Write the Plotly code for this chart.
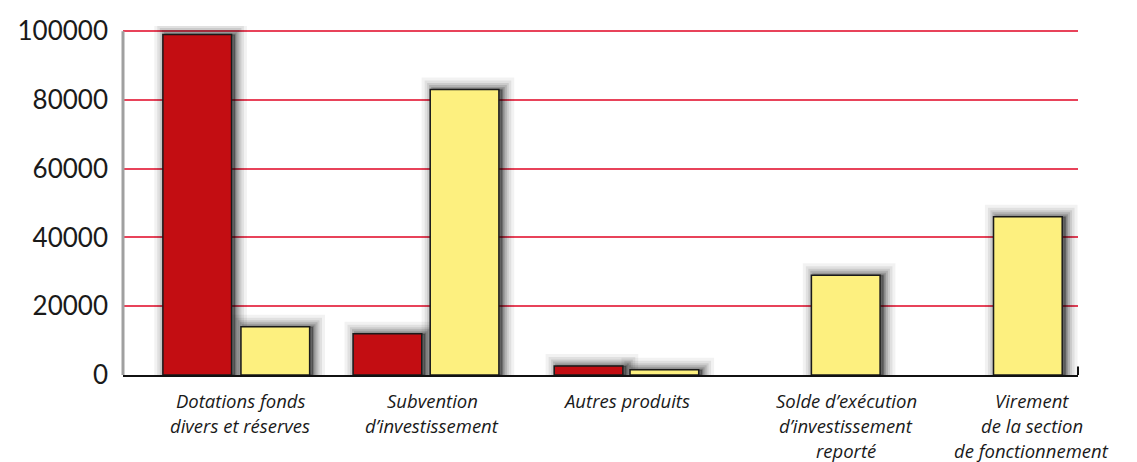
import plotly.graph_objects as go

category_lines = [["Dotations fonds", "divers et réserves"],
                  ["Subvention", "d’investissement"],
                  ["Autres produits"],
                  ["Solde d’exécution", "d’investissement", "reporté"],
                  ["Virement", "de la section", "de fonctionnement"]]
red_values = [99000, 12000, 2600, 0, 0]
yellow_values = [14000, 83000, 1500, 29000, 46000]
y_ticks = [0, 20000, 40000, 60000, 80000, 100000]

# layout / style (positions in axis units and pixels)
label_shift = [3, 7, 13, 45, 42]
red_offset = [-0.394, -0.383, -0.314, 0, 0]
yellow_offset = [0.021, 0.027, 0.089, 0.053, 0.021]
W = 0.365

keys = list(range(len(category_lines)))
RED = "#c30d12"
YELLOW = "#fdf07f"

fig = go.Figure()

# blurred drop shadows (drawn behind bars)
for vals, offs in ((red_values, red_offset), (yellow_values, yellow_offset)):
    shown = [v if v > 0 else None for v in vals]
    layers = ((24, 0.05, 0), (18, 0.07, 0), (13, 0.09, 0), (9, 0.12, 0),
              (5, 0.15, 0), (2, 0.18, 0.35))
    for lw, a, fill in layers:
        fig.add_trace(go.Bar(x=keys, y=shown, width=W, offset=[o + 0.018 for o in offs],
                             marker=dict(color=f"rgba(0,0,0,{fill})",
                                         line=dict(color=f"rgba(0,0,0,{a})", width=lw)),
                             hoverinfo="skip", showlegend=False))

fig.add_trace(go.Bar(x=keys, y=[v if v > 0 else None for v in red_values], width=W, offset=red_offset,
                     marker=dict(color=RED, line=dict(color="#1a1a1a", width=1.5)),
                     showlegend=False))
fig.add_trace(go.Bar(x=keys, y=yellow_values, width=W, offset=yellow_offset,
                     marker=dict(color=YELLOW, line=dict(color="#1a1a1a", width=1.5)),
                     showlegend=False))

for k, (lines, sh) in enumerate(zip(category_lines, label_shift)):
    for j, line in enumerate(lines):
        fig.add_annotation(x=k, y=0, xref="x", yref="y", text="<i>" + line + "</i>",
                           showarrow=False, xanchor="center", yanchor="middle",
                           yshift=-(25 + 25 * j), xshift=sh,
                           font=dict(family="Open Sans", size=18.5, color="#1a1a1a"))

# left grey axis bar and right end tick
fig.add_shape(type="line", xref="paper", yref="y", x0=0, x1=0, y0=0, y1=100000,
              line=dict(color="#a0a0a0", width=3))
fig.add_shape(type="line", xref="paper", yref="y", x0=1, x1=1, y0=0, y1=2500,
              line=dict(color="#111", width=2))

fig.update_layout(
    barmode="overlay",
    width=1137, height=462,
    margin=dict(l=115, r=67, t=18, b=95),
    plot_bgcolor="white", paper_bgcolor="white",
    xaxis=dict(range=[-0.606, 4.47], showticklabels=False, ticks="", showgrid=False,
               zeroline=False, showline=True, linecolor="#111", linewidth=2, automargin=False),
    yaxis=dict(range=[0, 101500], tickvals=y_ticks, ticktext=[str(v) for v in y_ticks],
               showgrid=True, gridcolor="#e8435a", gridwidth=1.5, zeroline=False,
               showline=False, ticks="", ticklabelstandoff=14, automargin=False,
               tickfont=dict(family="Lato", size=26, color="#1a1a1a")),
)

fig.write_html("out.html")
